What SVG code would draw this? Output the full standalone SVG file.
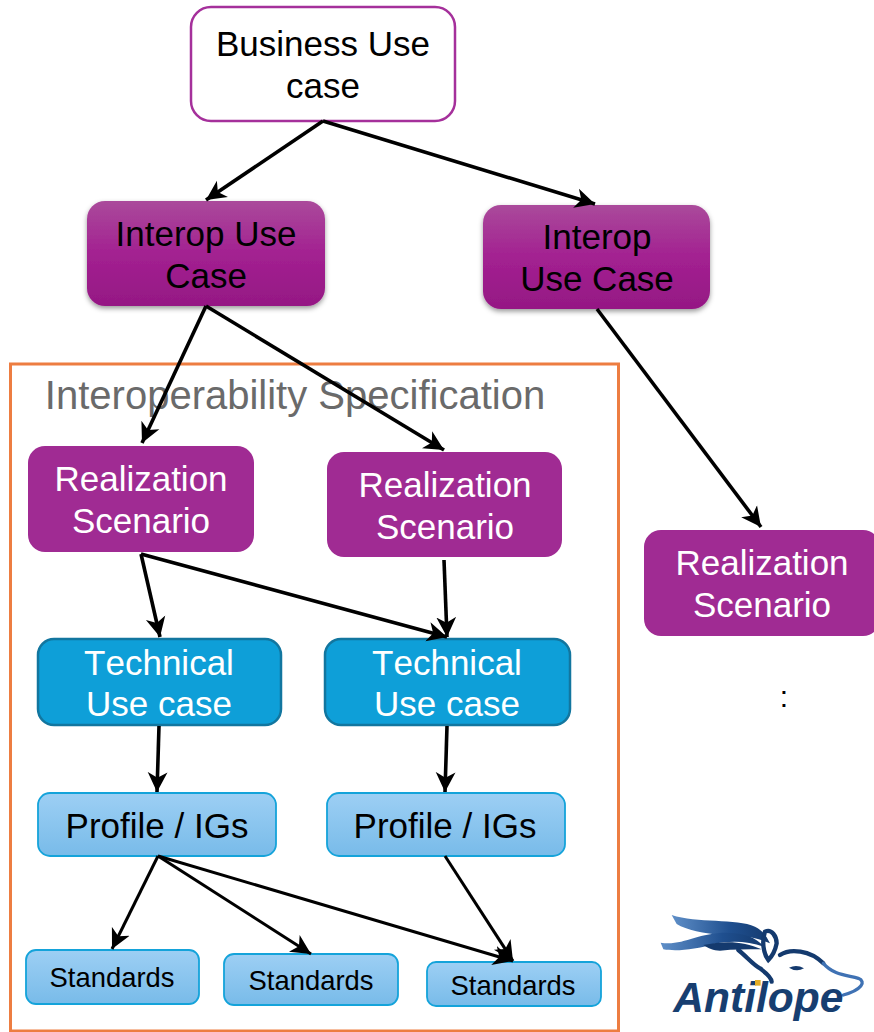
<svg xmlns="http://www.w3.org/2000/svg" width="874" height="1032" viewBox="0 0 874 1032">
<style>
text{font-family:"Liberation Sans",Arial,sans-serif;text-anchor:middle}
.t34{font-size:35px;fill:#000}
.w34{font-size:35px;fill:#fff}
.nk{font-kerning:none}
.s{font-size:27.400px;fill:#000}
.c{fill:none;stroke:#000;stroke-width:3.600;marker-end:url(#a)}
.c2{fill:none;stroke:#000;stroke-width:3;marker-end:url(#a)}
.iu{fill:url(#g1);filter:url(#sh)}
.rs{fill:#a02b93}
.tu{fill:#0e9fd8;stroke:#12769f;stroke-width:2.500}
.pr{fill:url(#g2);stroke:#14a3da;stroke-width:1.800}
.lk{fill:none;stroke:#143a6e;stroke-width:13;stroke-linecap:round}
</style>
<defs>
<linearGradient id="g1" x1="0" y1="0" x2="0" y2="1"><stop offset="0" stop-color="#aa4a9b"/><stop offset=".5" stop-color="#a32191"/><stop offset="1" stop-color="#951884"/></linearGradient>
<linearGradient id="g2" x1="0" y1="0" x2="0" y2="1"><stop offset="0" stop-color="#9dcff4"/><stop offset="1" stop-color="#78bbe9"/></linearGradient>
<linearGradient id="lg" x1="0" y1="0" x2="1" y2="0"><stop offset="0" stop-color="#5f8fc8"/><stop offset=".6" stop-color="#1f4f8f"/><stop offset="1" stop-color="#143a6e"/></linearGradient>
<filter id="sh" x="-10%" y="-10%" width="120%" height="125%"><feDropShadow dx="0" dy="2.500" stdDeviation="2.500" flood-color="#000" flood-opacity=".4"/></filter>
<marker id="a" markerUnits="userSpaceOnUse" markerWidth="22" markerHeight="22" refX="18" refY="10" orient="auto" viewBox="0 0 20 20"><path d="M0 1 L18 10 L0 19 L5 10Z" fill="#000"/></marker>
</defs>
<rect width="874" height="1032" fill="#fff"/>
<g id="spec-box"><rect x="10.500" y="364" width="608" height="667" fill="none" stroke="#ed7d41" stroke-width="3"/><text x="295" y="408.500" font-size="40" fill="#6a6a6a">Interoperability Specification</text></g>
<g id="business"><rect x="191" y="7" width="264" height="114" rx="20" fill="#fff" stroke="#a5309b" stroke-width="2.500"/><text class="t34" x="323" y="56">Business Use</text><text class="t34" x="323" y="98">case</text></g>
<g id="interop1"><rect class="iu" x="87" y="201" width="238" height="105" rx="18"/><text class="t34" x="206" y="246">Interop Use</text><text class="t34" x="206" y="287.500">Case</text></g>
<g id="interop2"><rect class="iu" x="483" y="205" width="227" height="104" rx="18"/><text class="t34" x="597" y="249">Interop</text><text class="t34" x="597" y="291">Use Case</text></g>
<g id="real1"><rect class="rs" x="28" y="446" width="226" height="106" rx="17"/><text class="w34" x="141" y="491">Realization</text><text class="w34" x="141" y="533">Scenario</text></g>
<g id="real2"><rect class="rs" x="327" y="452" width="235" height="105" rx="17"/><text class="w34" x="445" y="497">Realization</text><text class="w34" x="445" y="539">Scenario</text></g>
<g id="real3"><rect class="rs" x="644" y="530" width="236" height="106" rx="17"/><text class="w34" x="762" y="575">Realization</text><text class="w34" x="762" y="617">Scenario</text></g>
<g id="tech1"><rect class="tu" x="38" y="639" width="243" height="86" rx="16"/><text class="w34 nk" x="159" y="675">Technical</text><text class="w34" x="159" y="716">Use case</text></g>
<g id="tech2"><rect class="tu" x="325" y="639" width="245" height="86" rx="16"/><text class="w34 nk" x="447" y="675">Technical</text><text class="w34" x="447" y="716">Use case</text></g>
<g id="profile1"><rect class="pr" x="38" y="793" width="238" height="63" rx="12"/><text class="t34" x="157" y="838">Profile / IGs</text></g>
<g id="profile2"><rect class="pr" x="327" y="793" width="238" height="63" rx="12"/><text class="t34" x="445" y="838">Profile / IGs</text></g>
<g id="std1"><rect class="pr" x="26" y="950" width="173" height="54" rx="10"/><text class="s" x="112" y="987">Standards</text></g>
<g id="std2"><rect class="pr" x="224" y="954" width="174" height="51" rx="10"/><text class="s" x="311" y="990">Standards</text></g>
<g id="std3"><rect class="pr" x="427" y="962" width="174" height="44" rx="9"/><text class="s" x="513" y="995">Standards</text></g>
<g id="connectors">
<path class="c" d="M323 121L206 200"/>
<path class="c" d="M323 121L595 204"/>
<path class="c" d="M206 306L142 443"/>
<path class="c" d="M206 306L444 450"/>
<path class="c" d="M597 309L761 527"/>
<path class="c" d="M141 554L160 637"/>
<path class="c" d="M141 554L447 637"/>
<path class="c" d="M444 560L447 637"/>
<path class="c" d="M159 726L157 792"/>
<path class="c" d="M447 726L445 792"/>
<path class="c2" d="M158 856L112 949"/>
<path class="c2" d="M158 856L311 954"/>
<path class="c2" d="M158 856L513 961"/>
<path class="c2" d="M445 856L513 961"/>
</g>
<text x="784" y="707" font-size="30" fill="#000">:</text>
<g id="logo" transform="translate(640 900) scale(.3333)">
<path d="M95 45C170 70 290 55 345 80C370 92 380 110 390 130C340 108 300 108 250 106C190 100 140 90 110 72Z" fill="url(#lg)"/>
<path d="M62 128C130 138 170 98 260 98C310 98 350 112 372 140C320 122 270 122 220 132C170 148 110 155 70 148Z" fill="url(#lg)"/>
<path d="M190 135C250 122 310 122 365 148C320 148 280 148 240 152C220 152 205 145 190 135Z" fill="#143a6e"/>
<path class="lk" d="M295 150C320 170 340 195 360 205C380 220 395 235 395 245"/>
<path class="lk" d="M375 95C395 85 410 110 410 130C405 155 395 170 385 180C370 160 365 125 375 95Z"/>
<path class="lk" d="M420 165C450 145 510 150 550 190"/>
<path d="M550 190C580 225 620 225 655 235C680 245 665 270 610 285" fill="none" stroke="#3f72b4" stroke-width="10" stroke-linecap="round"/>
<path d="M447 203Q470 192 492 205Q470 218 447 203Z" fill="#143a6e"/>
<text x="355" y="335" font-size="125" font-weight="bold" font-style="italic" fill="#173e70" textLength="510" lengthAdjust="spacingAndGlyphs">Antilope</text>
<rect x="345" y="240" width="17" height="17" fill="#e5ad25"/>
</g>
</svg>
